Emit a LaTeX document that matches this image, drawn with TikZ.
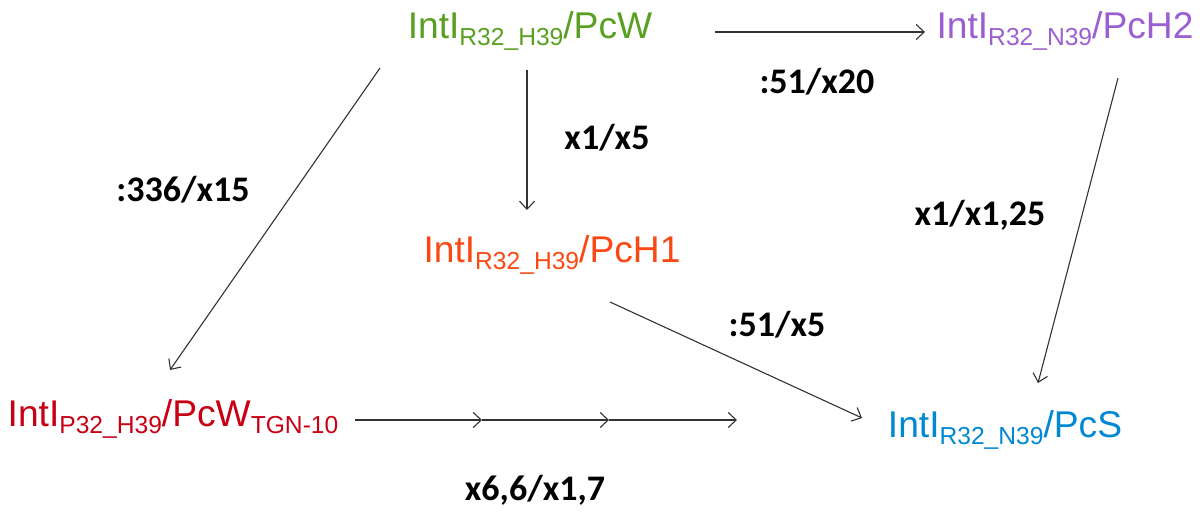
\documentclass[tikz,border=0pt]{standalone}
\usepackage{fontspec}
\setmainfont{Liberation Sans}
\newfontfamily\labfont{Carlito}
\usetikzlibrary{arrows.meta}
\definecolor{cgreen}{RGB}{88,160,34}
\definecolor{cpurple}{RGB}{155,95,210}
\definecolor{corange}{RGB}{250,72,20}
\definecolor{cred}{RGB}{200,0,20}
\definecolor{cblue}{RGB}{0,136,210}
\definecolor{cline}{RGB}{50,50,50}
\newcommand\sbs[1]{\raisebox{-3.5pt}{\fontsize{12.3}{12.3}\selectfont #1}}
\begin{document}
\begin{tikzpicture}[x=0.5pt,y=-0.5pt,
  nd/.style={inner sep=0pt, anchor=base, font=\fontsize{18.6}{18.6}\selectfont},
  lbl/.style={inner sep=0pt, font=\labfont\bfseries\fontsize{18}{18}\selectfont},
  arr/.style={draw=cline, line width=0.55pt, -{Straight Barb[length=4pt,width=7.5pt]}}]
\useasboundingbox (0,0) rectangle (1203,513);
\node[nd, text=cgreen] (g) at (530,39) {IntI\sbs{R32\_H39}/PcW};
\node[nd, text=cpurple] (p) at (1065,39) {IntI\sbs{R32\_N39}/PcH2};
\node[nd, text=corange] (o) at (552,263) {IntI\sbs{R32\_H39}/PcH1};
\node[nd, text=cred] (r) at (173,426) {IntI\sbs{P32\_H39}/PcW\sbs{TGN-10}};
\node[nd, text=cblue] (b) at (1005,437) {IntI\sbs{R32\_N39}/PcS};
\coordinate (m1) at ([shift={(309,-6)}]r.base);
\coordinate (m2) at ([shift={(436,-6)}]r.base);
\coordinate (m3) at ([shift={(564,-6)}]r.base);
\draw[arr] ([shift={(185,-7)}]g.base) -- ([shift={(-140,-7)}]p.base);
\draw[arr] ([shift={(-3,31)}]g.base) -- ([shift={(-25,-53)}]o.base);
\draw[arr] ([shift={(-150,29)}]g.base) -- ([shift={(-3,-56)}]r.base);
\draw[arr] ([shift={(53,39)}]p.base) -- ([shift={(33,-54)}]b.base);
\draw[arr] ([shift={(58,39)}]o.base) -- ([shift={(-143,-19)}]b.base);
\draw[arr] ([shift={(182,-6)}]r.base) -- (m1);
\draw[arr] (m1) -- (m2);
\draw[arr] (m2) -- (m3);
\node[lbl] (l1) at (817,82) {:51/x20};
\node[lbl] (l2) at (607,138) {x1/x5};
\node[lbl] (l3) at (183,190) {:336/x15};
\node[lbl] (l4) at (980,215) {x1/x1,25};
\node[lbl] (l5) at (777,325) {:51/x5};
\node[lbl] (l6) at (535,490) {x6,6/x1,7};
\end{tikzpicture}
\end{document}
